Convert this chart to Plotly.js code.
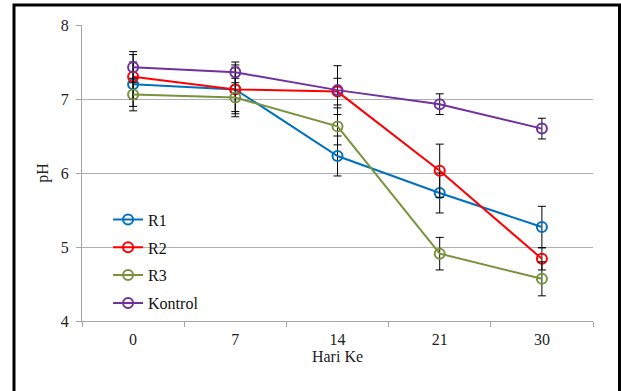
<!DOCTYPE html>
<html>
<head>
<meta charset="utf-8">
<script src="https://cdn.plot.ly/plotly-3.0.1.min.js"></script>
<style>
html,body{margin:0;padding:0;background:#fff;}
#chart{width:621px;height:391px;}
</style>
</head>
<body>
<div id="chart"></div>
<script>
const days = ["0", "7", "14", "21", "30"];
const seriesNames = ["R1", "R2", "R3", "Kontrol"];
const r1 = [7.20, 7.13, 6.23, 5.73, 5.27];
const r2 = [7.30, 7.13, 7.10, 6.03, 4.84];
const r3 = [7.06, 7.02, 6.63, 4.91, 4.57];
const kontrol = [7.43, 7.36, 7.12, 6.93, 6.60];
const r1Err = [0.30, 0.30, 0.27, 0.27, 0.28];
const r2Err = [0.30, 0.33, 0.18, 0.36, 0.15];
const r3Err = [0.22, 0.26, 0.25, 0.22, 0.23];
const kontrolErr = [0.21, 0.14, 0.33, 0.14, 0.14];
const colors = ["#0070C0", "#FF0000", "#77933C", "#7030A0"];

const values = [r1, r2, r3, kontrol];
const errs = [r1Err, r2Err, r3Err, kontrolErr];
const SERIF = "Liberation Serif";

const traces = values.map((v, i) => ({
  type: "scatter",
  mode: "lines+markers",
  name: seriesNames[i],
  legendgroup: "g" + i,
  x: days,
  y: v,
  line: {color: colors[i], width: 2},
  marker: {symbol: "circle-open", size: 10, color: colors[i], line: {width: 2, color: colors[i]}},
  error_y: {type: "data", array: errs[i], visible: true, color: "#000", thickness: 1, width: 4}
}));

const layout = {
  width: 621,
  height: 391,
  margin: {l: 82, r: 28, t: 25, b: 70},
  paper_bgcolor: "#fff",
  plot_bgcolor: "#fff",
  font: {family: SERIF, size: 16, color: "#222"},
  showlegend: true,
  legend: {
    x: 0.051, y: 0.40, xanchor: "left", yanchor: "top",
    bgcolor: "rgba(0,0,0,0)",
    font: {family: SERIF, size: 16, color: "#111"},
    tracegroupgap: 4,
    itemwidth: 30
  },
  xaxis: {
    type: "category",
    categoryorder: "array",
    categoryarray: days,
    range: [-0.5, 4.5],
    showgrid: false,
    showline: true,
    linecolor: "#A6A6A6",
    linewidth: 1,
    ticks: "outside",
    tickson: "boundaries",
    ticklen: 5,
    tickcolor: "#A6A6A6",
    zeroline: false,
    ticklabelstandoff: 4,
    tickfont: {family: SERIF, size: 16, color: "#222"},
    title: {text: "Hari Ke", font: {family: SERIF, size: 16, color: "#222"}, standoff: 3}
  },
  yaxis: {
    range: [4, 8],
    dtick: 1,
    showgrid: true,
    gridcolor: "#B0B0B0",
    gridwidth: 1,
    showline: true,
    linecolor: "#A6A6A6",
    linewidth: 1,
    ticks: "outside",
    ticklen: 5,
    tickcolor: "#A6A6A6",
    zeroline: false,
    ticklabelstandoff: 4,
    tickfont: {family: SERIF, size: 16, color: "#222"},
    title: {text: "pH", font: {family: SERIF, size: 16, color: "#222"}, standoff: 8}
  },
  shapes: [
    {type: "rect", xref: "paper", yref: "paper", layer: "below",
     x0: (88 - 82) / 511, x1: (222 - 82) / 511, y0: (321 - 316) / 296, y1: (321 - 200) / 296,
     fillcolor: "#fff", line: {width: 0}},
    {type: "rect", xref: "paper", yref: "paper", layer: "above",
     x0: (14 - 82) / 511, x1: (619.5 - 82) / 511, y0: (321 - 400) / 296, y1: (321 - 5) / 296,
     fillcolor: "rgba(0,0,0,0)", line: {width: 3, color: "#000"}}
  ]
};

Plotly.newPlot("chart", traces, layout, {displayModeBar: false, staticPlot: true});
</script>
</body>
</html>
